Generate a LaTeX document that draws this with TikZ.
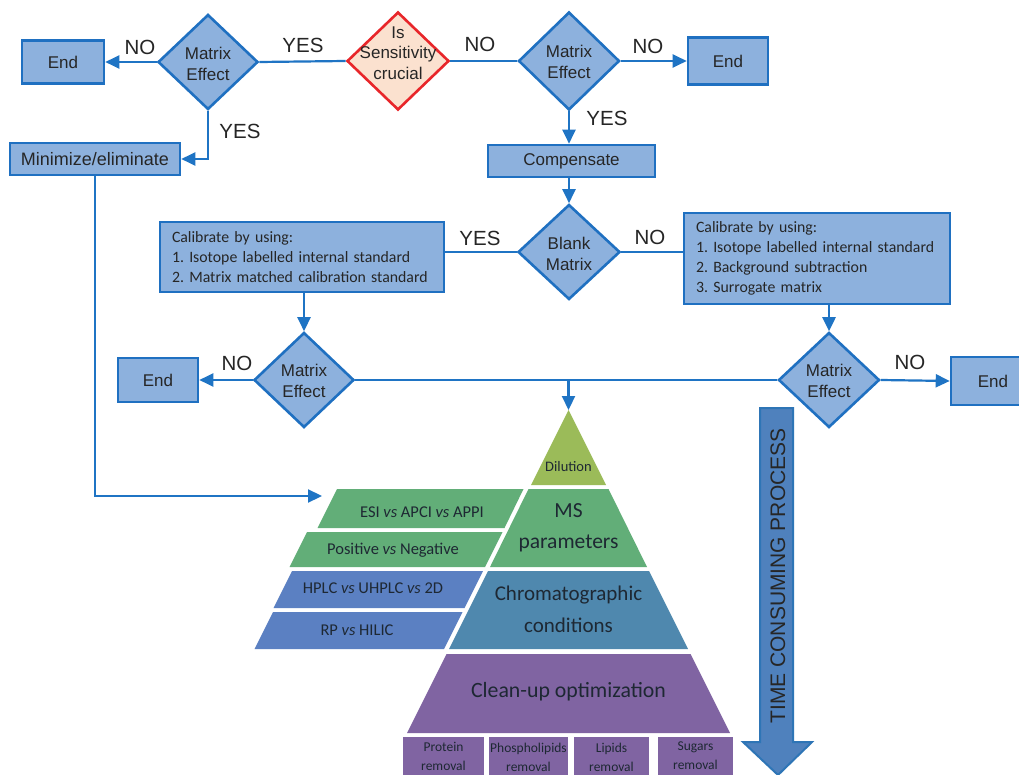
\documentclass[tikz,border=0pt]{standalone}
\usepackage{fontspec}
\setmainfont{Liberation Sans}
\newfontfamily\calfont{Carlito}
\usetikzlibrary{shapes.geometric,arrows.meta}
\definecolor{boxfill}{HTML}{8DB1DD}
\definecolor{boxline}{HTML}{1F70C1}
\definecolor{flow}{HTML}{1F74C4}
\definecolor{sensfill}{HTML}{FBE1CF}
\definecolor{sensline}{HTML}{E8262A}
\definecolor{txt}{HTML}{262626}
\definecolor{dilc}{HTML}{9BBB59}
\definecolor{msc}{HTML}{62AE78}
\definecolor{chc}{HTML}{4F88AE}
\definecolor{hpc}{HTML}{5B80C2}
\definecolor{clc}{HTML}{8064A2}
\definecolor{ptxt}{HTML}{1E2833}
\definecolor{tarrf}{HTML}{4F81BD}
\definecolor{tarrd}{HTML}{2E75B6}
\frenchspacing
\begin{document}
\begin{tikzpicture}[x=1pt,y=-1pt,
  box/.style={rectangle, draw=boxline, line width=2.6pt, fill=boxfill, inner sep=0pt, text=txt, font=\fontsize{17}{20}\selectfont},
  dia/.style={diamond, draw=boxline, line width=2.6pt, fill=boxfill, inner sep=0pt},
  dtxt/.style={text=txt, align=center, inner sep=0pt, font=\fontsize{17}{20.5}\selectfont},
  cal/.style={rectangle, draw=boxline, line width=2.6pt, fill=boxfill, inner xsep=12pt, inner ysep=0pt, align=left, text=txt, font=\calfont\fontsize{15.8}{20}\selectfont},
  flowline/.style={draw=flow, line width=2.2pt},
  arr/.style={flowline, -{Triangle[length=14pt,width=13pt]}},
  lbl/.style={text=txt, inner sep=0pt, font=\fontsize{20.5}{22}\selectfont},
  ptx/.style={text=ptxt, align=center, inner sep=0pt, font=\calfont},
]
\useasboundingbox (0,0) rectangle (1019,775);
\fill[white] (0,0) rectangle (1019,775);

% ---------- top row ----------
\node[box, minimum width=82pt, minimum height=43pt] (end1) at (63,62) {End};
\node[dia, minimum width=100pt, minimum height=95pt] (me1) at (208,62) {};
\node[dtxt] (me1t) at (208,64) {Matrix\\Effect};
\node[diamond, draw=sensline, line width=2.6pt, fill=sensfill, inner sep=0pt, minimum width=102pt, minimum height=98pt] (sens) at (398,61) {};
\node[dtxt] (senst) at (398,53) {Is\\Sensitivity\\crucial};
\node[dia, minimum width=101pt, minimum height=98pt] (me2) at (569,61) {};
\node[dtxt] (me2t) at (569,62) {Matrix\\Effect};
\node[box, minimum width=80pt, minimum height=47pt] (end2) at (728,61) {End};

\node[box, minimum width=170pt, minimum height=32pt, font=\fontsize{18}{20}\selectfont] (min) at (95,159) {Minimize/eliminate};
\node[box, minimum width=167pt, minimum height=32pt] (comp) at (571.5,161) {Compensate};

\node[dia, minimum width=102pt, minimum height=95pt] (blank) at (569,252) {};
\node[dtxt] (blankt) at (569,254) {Blank\\Matrix};

\node[cal, text width=260pt, minimum height=70pt] (cal1) at (302,257) {Calibrate by using:\\1. Isotope labelled internal standard\\2. Matrix matched calibration standard};
\node[cal, text width=242pt, minimum height=91pt] (cal2) at (817,258.5) {Calibrate by using:\\1. Isotope labelled internal standard\\2. Background subtraction\\3. Surrogate matrix};

\node[dia, minimum width=100pt, minimum height=95pt] (me3) at (304,380) {};
\node[dtxt] (me3t) at (304,381) {Matrix\\Effect};
\node[dia, minimum width=101pt, minimum height=95pt] (me4) at (829,380) {};
\node[dtxt] (me4t) at (829,381) {Matrix\\Effect};
\node[box, minimum width=80pt, minimum height=44pt] (end3) at (158,380) {End};
\node[box, minimum width=84pt, minimum height=48pt] (end4) at (993,381) {End};

% labels
\node[lbl] (l1) at (140,47) {NO};
\node[lbl] (l2) at (303,45) {YES};
\node[lbl] (l3) at (240,131) {YES};
\node[lbl] (l4) at (480,44) {NO};
\node[lbl] (l5) at (648,46) {NO};
\node[lbl] (l6) at (607,118) {YES};
\node[lbl] (l7) at (480,238) {YES};
\node[lbl] (l8) at (650,237) {NO};
\node[lbl] (l9) at (237,363) {NO};
\node[lbl] (l10) at (910,362) {NO};

% ---------- pyramid ----------
\coordinate (apex) at (568.5,410);
\coordinate (minend) at (322,496);
\fill[dilc] (apex) -- (606,485) -- (531,485) -- cycle;
\fill[msc] (528.5,489) -- (608.5,489) -- (647,567) -- (490,567) -- cycle;
\fill[chc] (488,571) -- (649,571) -- (688,649) -- (449,649) -- cycle;
\fill[clc] (446.5,654) -- (690.5,654) -- (730,733) -- (407,733) -- cycle;
\fill[msc] (337,489) -- (523.5,489) -- (504.5,528) -- (317.5,528) -- cycle;
\fill[msc] (307,532) -- (502.5,532) -- (485,567) -- (289.5,567) -- cycle;
\fill[hpc] (292,571) -- (483,571) -- (464.5,608) -- (273.5,608) -- cycle;
\fill[hpc] (273,612) -- (462.5,612) -- (444,649) -- (254.5,649) -- cycle;
\fill[clc] (403,737) rectangle (484,780);
\fill[clc] (489,737) rectangle (568,780);
\fill[clc] (574,737) rectangle (649,780);
\fill[clc] (658,737) rectangle (733,780);

\node[ptx, font=\calfont\fontsize{14.5}{16}\selectfont] (dil) at (568.5,467) {Dilution};
\node[ptx, font=\calfont\fontsize{21.5}{31}\selectfont] (ms) at (568.5,528) {MS\\parameters};
\node[ptx, font=\calfont\fontsize{21}{32}\selectfont] (chrom) at (568.5,609) {Chromatographic\\conditions};
\node[ptx, font=\calfont\fontsize{21.8}{24}\selectfont] (clean) at (568.5,692) {Clean-up optimization};
\node[ptx, font=\calfont\fontsize{16.5}{18}\selectfont] (esi) at (422,512) {ESI \textit{vs} APCI \textit{vs} APPI};
\node[ptx, font=\calfont\fontsize{16.5}{18}\selectfont] (pos) at (393,550) {Positive \textit{vs} Negative};
\node[ptx, font=\calfont\fontsize{16.5}{18}\selectfont] (hplc) at (373,588) {HPLC \textit{vs} UHPLC \textit{vs} 2D};
\node[ptx, font=\calfont\fontsize{16.5}{18}\selectfont] (rp) at (357,630) {RP \textit{vs} HILIC};
\node[ptx, font=\calfont\fontsize{13.5}{19}\selectfont] (prot) at (443.5,756) {Protein\\removal};
\node[ptx, font=\calfont\fontsize{13.5}{19}\selectfont] (phos) at (528.5,757) {Phospholipids\\removal};
\node[ptx, font=\calfont\fontsize{13.5}{19}\selectfont] (lip) at (611.5,757) {Lipids\\removal};
\node[ptx, font=\calfont\fontsize{13.5}{19}\selectfont] (sug) at (695.5,756) {Sugars\\removal};

% ---------- time arrow ----------
\filldraw[fill=tarrf, draw=tarrd, line width=2pt, line join=miter]
  (760,408) -- (793,408) -- (793,742) -- (812,742) -- (778,775) -- (743,742) -- (760,742) -- cycle;
\node[rotate=90, text=txt, inner sep=0pt, font=\fontsize{21}{22}\selectfont] (tcp) at (778,576) {TIME CONSUMING PROCESS};

% ---------- connectors ----------
\draw[arr] (me1.west) -- (end1.east);
\draw[flowline] (me1.east) -- (sens.west);
\draw[flowline] (sens.east) -- (me2.west);
\draw[arr] (me2.east) -- (end2.west);
\draw[arr] (me1.south) |- (min.east);
\draw[arr] (me2.south) -- (me2.south |- comp.north);
\draw[arr] (blank.north |- comp.south) -- (blank.north);
\draw[flowline] (blank.west) -- (blank.west -| cal1.east);
\draw[flowline] (blank.east) -- (blank.east -| cal2.west);
\draw[arr, line width=2.6pt] (me3.north |- cal1.south) -- (me3.north);
\draw[arr, line width=2.6pt] (me4.north |- cal2.south) -- (me4.north);
\draw[arr] (me3.west) -- (end3.east);
\draw[arr] (me4.east) -- (end4.west);
\draw[flowline] (me3.east) -- (me4.west);
\draw[arr] (me3.east -| apex) -- (apex);
\draw[arr] (min.south) |- (minend);
\end{tikzpicture}
\end{document}
